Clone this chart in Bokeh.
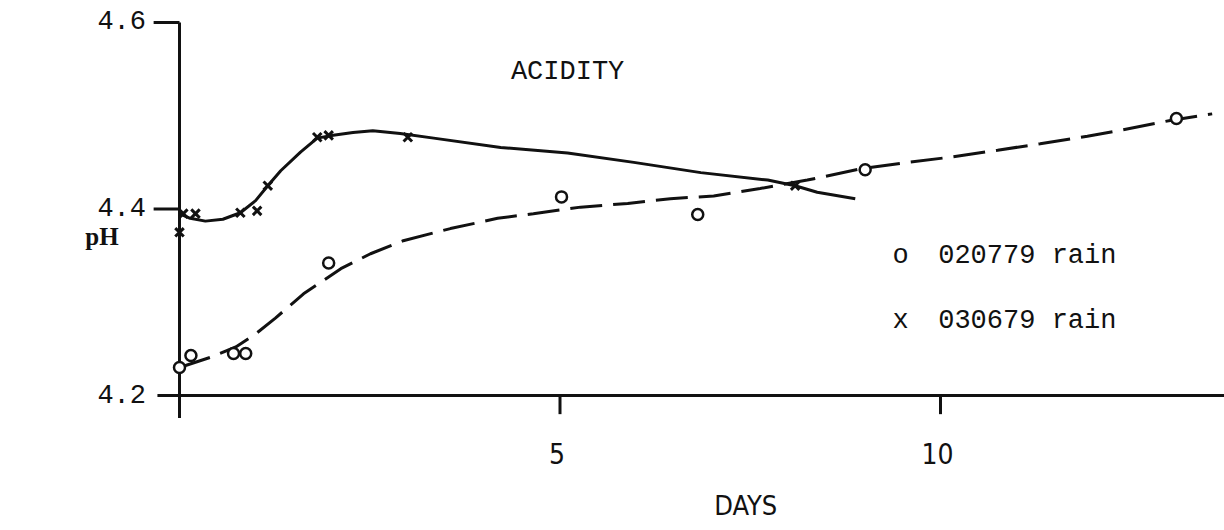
from bokeh.plotting import figure
from bokeh.models import Range1d
from bokeh.core.properties import value
from bokeh.embed import file_html
from bokeh.resources import INLINE

# --- measurements -----------------------------------------------------------
# 020779 rain (o)
o_days = [0.0, 0.15, 0.71, 0.87, 1.96, 5.02, 6.81, 9.01, 13.1]
o_ph = [4.230, 4.243, 4.245, 4.245, 4.342, 4.413, 4.394, 4.442, 4.497]

# 030679 rain (x)
x_days = [0.0, 0.05, 0.21, 0.80, 1.02, 1.16, 1.81, 1.96, 3.0, 8.09]
x_ph = [4.375, 4.395, 4.395, 4.396, 4.398, 4.425, 4.477, 4.479, 4.477, 4.425]

# hand-fitted trend curves
o_fit_days = [0.0, 0.41, 0.74, 1.00, 1.26, 1.63, 2.12, 2.51, 2.94, 3.56, 4.18,
              4.65, 5.27, 5.89, 6.45, 7.02, 7.63, 8.25, 8.95, 9.57, 10.17,
              10.75, 11.31, 11.93, 12.40, 13.02, 13.57]
o_fit_ph = [4.230, 4.241, 4.252, 4.266, 4.283, 4.309, 4.336, 4.352, 4.366,
            4.379, 4.390, 4.395, 4.402, 4.406, 4.411, 4.414, 4.422, 4.431,
            4.443, 4.450, 4.456, 4.463, 4.470, 4.478, 4.485, 4.495, 4.502]

x_fit_days = [0.00, 0.14, 0.34, 0.57, 0.80, 1.00, 1.16, 1.33, 1.59, 1.81, 2.02,
              2.28, 2.54, 2.90, 3.34, 4.22, 5.10, 5.97, 6.85, 7.73, 8.09, 8.38,
              8.88]
x_fit_ph = [4.395, 4.390, 4.387, 4.389, 4.396, 4.409, 4.425, 4.441, 4.461,
            4.476, 4.479, 4.482, 4.484, 4.481, 4.476, 4.466, 4.460, 4.450,
            4.439, 4.431, 4.425, 4.418, 4.411]

# axes
y_ticks = [4.2, 4.4, 4.6]
y_tick_labels = ["4.2", "4.4", "4.6"]
x_ticks = [5, 10]
x_tick_labels = ["5", "10"]

title_text = "ACIDITY"
x_title = "DAYS"
y_title = "pH"
legend_markers = ["o", "x"]
legend_labels = ["020779 rain", "030679 rain"]
legend_ph = [4.35, 4.28]

# --- figure -----------------------------------------------------------------
X0, X1 = -2.3522, 13.732
Y0, Y1 = 4.05523, 4.62359

p = figure(width=1224, height=530, x_range=Range1d(X0, X1), y_range=Range1d(Y0, Y1),
           output_backend="svg", toolbar_location=None, min_border=0)
p.axis.visible = False
p.grid.visible = False
p.outline_line_color = None
p.background_fill_color = "white"
p.border_fill_color = "white"

INK = "#111111"
MONO = value("Liberation Mono")
NARROW = value("DejaVu Sans Condensed")

# axis lines
y_axis_top, y_axis_bottom = 4.6, 4.176
p.segment(x0=[0], y0=[y_axis_bottom], x1=[0], y1=[y_axis_top], line_color=INK, line_width=3)
p.segment(x0=[-0.29], y0=[4.2], x1=[X1], y1=[4.2], line_color=INK, line_width=3)

# y ticks (left of the axis) and x ticks (below the axis)
p.segment(x0=[-0.34 for _ in y_ticks[1:]], y0=y_ticks[1:], x1=[0 for _ in y_ticks[1:]],
          y1=y_ticks[1:], line_color=INK, line_width=3)
p.segment(x0=x_ticks, y0=[4.2 for _ in x_ticks], x1=x_ticks, y1=[4.18 for _ in x_ticks],
          line_color=INK, line_width=3)

# tick labels
p.text(x=[-0.44 for _ in y_ticks], y=y_ticks, text=y_tick_labels, text_font=MONO,
       text_font_size="27px", text_align="right", text_baseline="middle", text_color=INK,
       y_offset=-2)
p.text(x=x_ticks, y=[4.2 for _ in x_ticks], text=x_tick_labels, text_font=NARROW,
       text_font_size="28px", text_align="center", text_baseline="middle",
       text_color=INK, y_offset=58, x_offset=-3)

# titles
p.text(x=[5.1], y=[4.547], text=[title_text], text_font=MONO, text_font_size="27px",
       text_align="center", text_baseline="middle", text_color=INK)
p.text(x=[7.44], y=[4.2], text=[x_title], text_font=NARROW, text_font_size="27px",
       text_align="center", text_baseline="middle", text_color=INK, y_offset=110)
p.text(x=[-0.80], y=[4.37], text=[y_title], text_font=value("Liberation Serif"),
       text_font_size="25px", text_font_style="bold", text_align="right",
       text_baseline="middle", text_color=INK)

# fitted curves
p.line(x_fit_days, x_fit_ph, line_color=INK, line_width=3)
p.line(o_fit_days, o_fit_ph, line_color=INK, line_width=3, line_dash="32 11")

# observations
p.scatter(x=o_days, y=o_ph, marker="circle", size=11, fill_color="white",
          line_color=INK, line_width=2.5)
p.scatter(x=x_days, y=x_ph, marker="x", size=12, line_color=INK, line_width=3)

# key
p.text(x=[9.37 for _ in legend_markers], y=legend_ph, text=legend_markers,
       text_font=MONO, text_font_size="27px", text_align="left", text_baseline="middle",
       text_color=INK)
p.text(x=[9.97 for _ in legend_labels], y=legend_ph, text=legend_labels,
       text_font=MONO, text_font_size="27px", text_align="left", text_baseline="middle",
       text_color=INK)

open("out.html", "w").write(file_html(p, INLINE))
